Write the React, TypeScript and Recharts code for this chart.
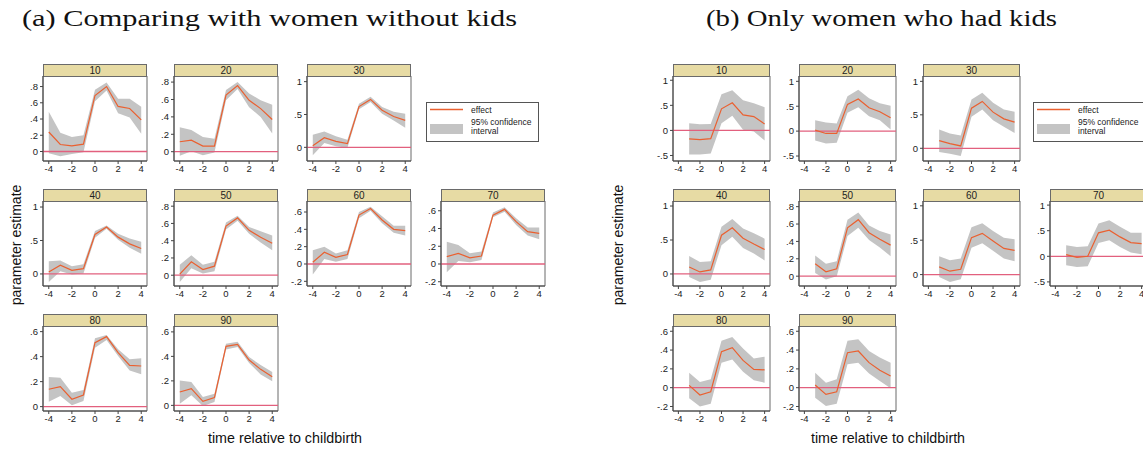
import {
  Area,
  ComposedChart,
  Line,
  ReferenceArea,
  ReferenceLine,
  XAxis,
  YAxis,
} from "recharts";

// event time: panel (a) starts at -4, panel (b) at -3
const TIME_A = [-4, -3, -2, -1, 0, 1, 2, 3, 4];
const TIME_B = [-3, -2, -1, 0, 1, 2, 3, 4];
const X_TICKS = [-4, -2, 0, 2, 4];

// (a) Comparing with women without kids
const A10_EST = [0.24, 0.086, 0.07, 0.09, 0.69, 0.8, 0.555, 0.53, 0.39];
const A10_LO = [-0.02, -0.057, -0.03, -0.01, 0.62, 0.75, 0.47, 0.42, 0.22];
const A10_HI = [0.49, 0.23, 0.18, 0.2, 0.76, 0.85, 0.65, 0.65, 0.55];
const A20_EST = [0.114, 0.133, 0.065, 0.065, 0.65, 0.76, 0.59, 0.495, 0.37];
const A20_LO = [-0.046, 0.004, -0.04, -0.01, 0.59, 0.72, 0.51, 0.4, 0.21];
const A20_HI = [0.28, 0.25, 0.17, 0.15, 0.71, 0.8, 0.67, 0.59, 0.54];
const A30_EST = [0.025, 0.147, 0.09, 0.056, 0.62, 0.73, 0.565, 0.47, 0.41];
const A30_LO = [-0.12, 0.066, 0.015, -0.005, 0.58, 0.69, 0.51, 0.41, 0.3];
const A30_HI = [0.19, 0.24, 0.17, 0.117, 0.665, 0.77, 0.615, 0.54, 0.51];
const A40_EST = [0.03, 0.13, 0.055, 0.08, 0.59, 0.7, 0.55, 0.45, 0.38];
const A40_LO = [-0.12, 0.04, -0.01, 0.005, 0.54, 0.675, 0.51, 0.39, 0.3];
const A40_HI = [0.19, 0.2, 0.115, 0.145, 0.64, 0.725, 0.6, 0.53, 0.48];
const A50_EST = [0.012, 0.156, 0.066, 0.105, 0.57, 0.664, 0.52, 0.44, 0.37];
const A50_LO = [-0.08, 0.08, 0.02, 0.047, 0.53, 0.63, 0.48, 0.38, 0.29];
const A50_HI = [0.12, 0.23, 0.12, 0.156, 0.61, 0.69, 0.56, 0.51, 0.46];
const A60_EST = [0.02, 0.135, 0.077, 0.11, 0.565, 0.64, 0.508, 0.4, 0.385];
const A60_LO = [-0.12, 0.058, 0.027, 0.058, 0.527, 0.615, 0.47, 0.36, 0.33];
const A60_HI = [0.16, 0.2, 0.12, 0.16, 0.6, 0.66, 0.55, 0.44, 0.44];
const A70_EST = [0.083, 0.12, 0.07, 0.09, 0.55, 0.616, 0.477, 0.365, 0.346];
const A70_LO = [-0.094, 0.034, 0.02, 0.045, 0.526, 0.59, 0.44, 0.32, 0.28];
const A70_HI = [0.25, 0.214, 0.12, 0.14, 0.58, 0.64, 0.515, 0.41, 0.41];
const A80_EST = [0.139, 0.16, 0.059, 0.093, 0.512, 0.56, 0.432, 0.33, 0.325];
const A80_LO = [0.04, 0.085, 0.011, 0.045, 0.472, 0.533, 0.405, 0.29, 0.259];
const A80_HI = [0.237, 0.232, 0.112, 0.133, 0.547, 0.573, 0.459, 0.379, 0.387];
const A90_EST = [0.109, 0.136, 0.033, 0.063, 0.482, 0.498, 0.37, 0.294, 0.234];
const A90_LO = [0.014, 0.082, -0.005, 0.027, 0.457, 0.476, 0.346, 0.253, 0.196];
const A90_HI = [0.204, 0.19, 0.068, 0.095, 0.503, 0.52, 0.394, 0.329, 0.272];

// (b) Only women who had kids
const B10_EST = [-0.17, -0.184, -0.164, 0.43, 0.55, 0.31, 0.276, 0.13];
const B10_LO = [-0.48, -0.48, -0.46, 0.145, 0.29, 0.013, -0.02, -0.2];
const B10_HI = [0.145, 0.125, 0.13, 0.72, 0.8, 0.6, 0.54, 0.46];
const B20_EST = [0.02, -0.047, -0.047, 0.537, 0.644, 0.47, 0.39, 0.27];
const B20_LO = [-0.19, -0.25, -0.235, 0.37, 0.48, 0.3, 0.22, 0.034];
const B20_HI = [0.22, 0.175, 0.155, 0.7, 0.83, 0.66, 0.56, 0.51];
const B30_EST = [0.114, 0.07, 0.035, 0.6, 0.7, 0.54, 0.44, 0.39];
const B30_LO = [-0.055, -0.08, -0.115, 0.47, 0.58, 0.42, 0.32, 0.23];
const B30_HI = [0.28, 0.22, 0.19, 0.73, 0.83, 0.68, 0.58, 0.545];
const B40_EST = [0.103, 0.03, 0.06, 0.57, 0.68, 0.525, 0.44, 0.36];
const B40_LO = [-0.044, -0.118, -0.084, 0.424, 0.547, 0.384, 0.3, 0.2];
const B40_HI = [0.266, 0.177, 0.187, 0.695, 0.81, 0.67, 0.6, 0.52];
const B50_EST = [0.143, 0.05, 0.086, 0.556, 0.65, 0.5, 0.425, 0.357];
const B50_LO = [0.038, -0.038, 0, 0.462, 0.556, 0.417, 0.33, 0.23];
const B50_HI = [0.237, 0.143, 0.173, 0.65, 0.733, 0.583, 0.52, 0.48];
const B60_EST = [0.112, 0.049, 0.078, 0.537, 0.6, 0.488, 0.38, 0.351];
const B60_LO = [-0.034, -0.107, -0.068, 0.39, 0.454, 0.346, 0.234, 0.195];
const B60_HI = [0.268, 0.21, 0.234, 0.688, 0.746, 0.634, 0.536, 0.512];
const B70_EST = [0.033, -0.02, 0, 0.458, 0.51, 0.379, 0.268, 0.248];
const B70_LO = [-0.176, -0.21, -0.196, 0.26, 0.314, 0.183, 0.072, 0.04];
const B70_HI = [0.216, 0.183, 0.196, 0.64, 0.706, 0.575, 0.458, 0.458];
const B80_EST = [0.025, -0.078, -0.043, 0.383, 0.426, 0.29, 0.195, 0.19];
const B80_LO = [-0.113, -0.2, -0.17, 0.266, 0.3, 0.17, 0.078, 0.053];
const B80_HI = [0.16, 0.06, 0.089, 0.5, 0.54, 0.416, 0.31, 0.33];
const B90_EST = [0.028, -0.071, -0.043, 0.372, 0.39, 0.266, 0.185, 0.124];
const B90_LO = [-0.107, -0.195, -0.17, 0.25, 0.266, 0.15, 0.07, -0.007];
const B90_HI = [0.16, 0.053, 0.089, 0.5, 0.516, 0.39, 0.32, 0.266];

const TICKS_08 = [0, 0.2, 0.4, 0.6, 0.8];
const TICKS_1 = [0, 0.5, 1];
const TICKS_NEG = [-0.2, 0, 0.2, 0.4, 0.6];
const TICKS_06 = [0, 0.2, 0.4, 0.6];
const TICKS_HALF = [-0.5, 0, 0.5, 1];

type Facet = {
  label: string;
  est: number[];
  lo: number[];
  hi: number[];
  domain: [number, number];
  ticks: number[];
};

const FACETS_A: Facet[] = [
  { label: "10", est: A10_EST, lo: A10_LO, hi: A10_HI, domain: [-0.117, 0.93], ticks: TICKS_08 },
  { label: "20", est: A20_EST, lo: A20_LO, hi: A20_HI, domain: [-0.107, 0.87], ticks: TICKS_08 },
  { label: "30", est: A30_EST, lo: A30_LO, hi: A30_HI, domain: [-0.208, 1.086], ticks: TICKS_1 },
  { label: "40", est: A40_EST, lo: A40_LO, hi: A40_HI, domain: [-0.18, 1.09], ticks: TICKS_1 },
  { label: "50", est: A50_EST, lo: A50_LO, hi: A50_HI, domain: [-0.125, 0.86], ticks: TICKS_08 },
  { label: "60", est: A60_EST, lo: A60_LO, hi: A60_HI, domain: [-0.254, 0.727], ticks: TICKS_NEG },
  { label: "70", est: A70_EST, lo: A70_LO, hi: A70_HI, domain: [-0.248, 0.71], ticks: TICKS_NEG },
  { label: "80", est: A80_EST, lo: A80_LO, hi: A80_HI, domain: [-0.035, 0.645], ticks: TICKS_06 },
  { label: "90", est: A90_EST, lo: A90_LO, hi: A90_HI, domain: [-0.046, 0.648], ticks: TICKS_06 },
];

const FACETS_B: Facet[] = [
  { label: "10", est: B10_EST, lo: B10_LO, hi: B10_HI, domain: [-0.61, 1.085], ticks: TICKS_HALF },
  { label: "20", est: B20_EST, lo: B20_LO, hi: B20_HI, domain: [-0.6, 1.107], ticks: TICKS_HALF },
  { label: "30", est: B30_EST, lo: B30_LO, hi: B30_HI, domain: [-0.19, 1.08], ticks: TICKS_1 },
  { label: "40", est: B40_EST, lo: B40_LO, hi: B40_HI, domain: [-0.177, 1.074], ticks: TICKS_1 },
  { label: "50", est: B50_EST, lo: B50_LO, hi: B50_HI, domain: [-0.113, 0.865], ticks: TICKS_08 },
  { label: "60", est: B60_EST, lo: B60_LO, hi: B60_HI, domain: [-0.166, 1.07], ticks: TICKS_1 },
  { label: "70", est: B70_EST, lo: B70_LO, hi: B70_HI, domain: [-0.58, 1.08], ticks: TICKS_HALF },
  { label: "80", est: B80_EST, lo: B80_LO, hi: B80_HI, domain: [-0.248, 0.656], ticks: TICKS_NEG },
  { label: "90", est: B90_EST, lo: B90_LO, hi: B90_HI, domain: [-0.248, 0.656], ticks: TICKS_NEG },
];

// grid slot (row, col) of each facet; row 1 col 3 holds the legend
const SLOTS = [
  [0, 0], [0, 1], [0, 2],
  [1, 0], [1, 1], [1, 2], [1, 3],
  [2, 0], [2, 1],
];

const ROW_TOPS = [64, 189, 314];
const COLS_A = [43, 174, 307, 441];
const COLS_B = [673, 799, 923, 1050];

const HEADER_H = 12;
const PLOT_H = 85;
const Y_W = 30;
const X_H = 18;

const EFFECT_COLOR = "#ea6030";
const CI_COLOR = "#c4c4c4";
const ZERO_COLOR = "#e2607e";
const STRIP_COLOR = "#e7dba4";
const FRAME_COLOR = "#6a6a6a";
const SANS = "'Liberation Sans', Arial, sans-serif";
const SERIF = "'Liberation Serif', 'DejaVu Serif', serif";

function stataNum(v: number): string {
  if (v === 0) return "0";
  const s = String(Math.round(v * 10) / 10);
  return s.replace(/^0\./, ".").replace(/^-0\./, "-.");
}

function FacetPlot({ facet, times, left, top, width }: {
  facet: Facet;
  times: number[];
  left: number;
  top: number;
  width: number;
}) {
  const data = times.map((t, i) => ({
    t,
    est: facet.est[i],
    ci: [facet.lo[i], facet.hi[i]],
  }));
  const tick = { fontSize: 9.5, fill: "#222", fontFamily: SANS };

  return (
    <div style={{ position: "absolute", left: left - Y_W, top }}>
      <div
        style={{
          marginLeft: Y_W,
          width,
          height: HEADER_H + 1,
          boxSizing: "border-box",
          background: STRIP_COLOR,
          border: `1px solid ${FRAME_COLOR}`,
          fontFamily: SANS,
          fontSize: 10,
          lineHeight: `${HEADER_H - 1}px`,
          textAlign: "center",
          color: "#222",
        }}
      >
        {facet.label}
      </div>
      <div style={{ marginTop: -1 }}>
        <ComposedChart
          width={Y_W + width + 2}
          height={PLOT_H + X_H}
          data={data}
          margin={{ top: 0, right: 2, bottom: 0, left: 0 }}
        >
          <XAxis
            type="number"
            dataKey="t"
            domain={[-4.5, 4.5]}
            ticks={X_TICKS}
            allowDataOverflow
            height={X_H}
            tickSize={3}
            tickMargin={1}
            tick={tick}
            stroke="#444"
          />
          <YAxis
            type="number"
            domain={facet.domain}
            ticks={facet.ticks}
            allowDataOverflow
            width={Y_W}
            tickSize={3}
            tickMargin={2}
            tick={tick}
            tickFormatter={stataNum}
            stroke="#444"
          />
          <Area
            dataKey="ci"
            fill={CI_COLOR}
            fillOpacity={1}
            stroke="none"
            isAnimationActive={false}
          />
          <ReferenceLine y={0} stroke={ZERO_COLOR} strokeWidth={1.3} />
          <Line
            dataKey="est"
            stroke={EFFECT_COLOR}
            strokeWidth={1.2}
            dot={false}
            isAnimationActive={false}
          />
          <ReferenceArea
            x1={-4.5}
            x2={4.5}
            y1={facet.domain[0]}
            y2={facet.domain[1]}
            fill="none"
            stroke={FRAME_COLOR}
            strokeWidth={1}
          />
        </ComposedChart>
      </div>
    </div>
  );
}

function LegendBox({ left, top }: { left: number; top: number }) {
  return (
    <svg
      width={114}
      height={41}
      style={{ position: "absolute", left, top, overflow: "visible" }}
    >
      <rect x={0.5} y={0.5} width={112} height={39} fill="#fff" stroke="#555" />
      <line x1={4} x2={37} y1={7.5} y2={7.5} stroke={EFFECT_COLOR} strokeWidth={1.6} />
      <rect x={4} y={22} width={33} height={10} fill={CI_COLOR} />
      <text x={45} y={11} fontSize={8.5} fontFamily={SANS} fill="#222">effect</text>
      <text x={45} y={23} fontSize={8.5} fontFamily={SANS} fill="#222">95% confidence</text>
      <text x={45} y={32} fontSize={8.5} fontFamily={SANS} fill="#222">interval</text>
    </svg>
  );
}

function Title({ text, left, width }: { text: string; left: number; width: number }) {
  return (
    <svg
      width={width + 10}
      height={36}
      style={{ position: "absolute", left, top: 0, overflow: "visible" }}
    >
      <text
        x={0}
        y={26}
        fontSize={24}
        fontFamily={SERIF}
        fill="#111"
        textLength={width}
        lengthAdjust="spacingAndGlyphs"
      >
        {text}
      </text>
    </svg>
  );
}

function Label({ text, x, y, size, rotate }: {
  text: string;
  x: number;
  y: number;
  size: number;
  rotate?: boolean;
}) {
  return (
    <div
      style={{
        position: "absolute",
        left: x,
        top: y,
        transform: `translate(-50%, -50%)${rotate ? " rotate(-90deg)" : ""}`,
        fontSize: size,
        fontFamily: SANS,
        whiteSpace: "nowrap",
        color: "#111",
        lineHeight: 1,
      }}
    >
      {text}
    </div>
  );
}

export default function App() {
  return (
    <div
      style={{
        position: "absolute",
        left: 0,
        top: 0,
        width: 1143,
        height: 451,
        overflow: "hidden",
        background: "#fff",
      }}
    >
      <Title text="(a) Comparing with women without kids" left={22} width={495} />
      <Title text="(b) Only women who had kids" left={706} width={351} />

      <Label text="parameter estimate" x={16} y={245} size={14} rotate />
      <Label text="parameter estimate" x={618} y={245} size={14} rotate />
      <Label text="time relative to childbirth" x={285} y={438} size={14.3} />
      <Label text="time relative to childbirth" x={888} y={438} size={14.3} />

      {FACETS_A.map((f, i) => (
        <FacetPlot
          key={`a${f.label}`}
          facet={f}
          times={TIME_A}
          left={COLS_A[SLOTS[i][1]]}
          top={ROW_TOPS[SLOTS[i][0]]}
          width={104}
        />
      ))}
      {FACETS_B.map((f, i) => (
        <FacetPlot
          key={`b${f.label}`}
          facet={f}
          times={TIME_B}
          left={COLS_B[SLOTS[i][1]]}
          top={ROW_TOPS[SLOTS[i][0]]}
          width={97}
        />
      ))}

      <LegendBox left={426} top={102} />
      <LegendBox left={1033} top={102} />
    </div>
  );
}
